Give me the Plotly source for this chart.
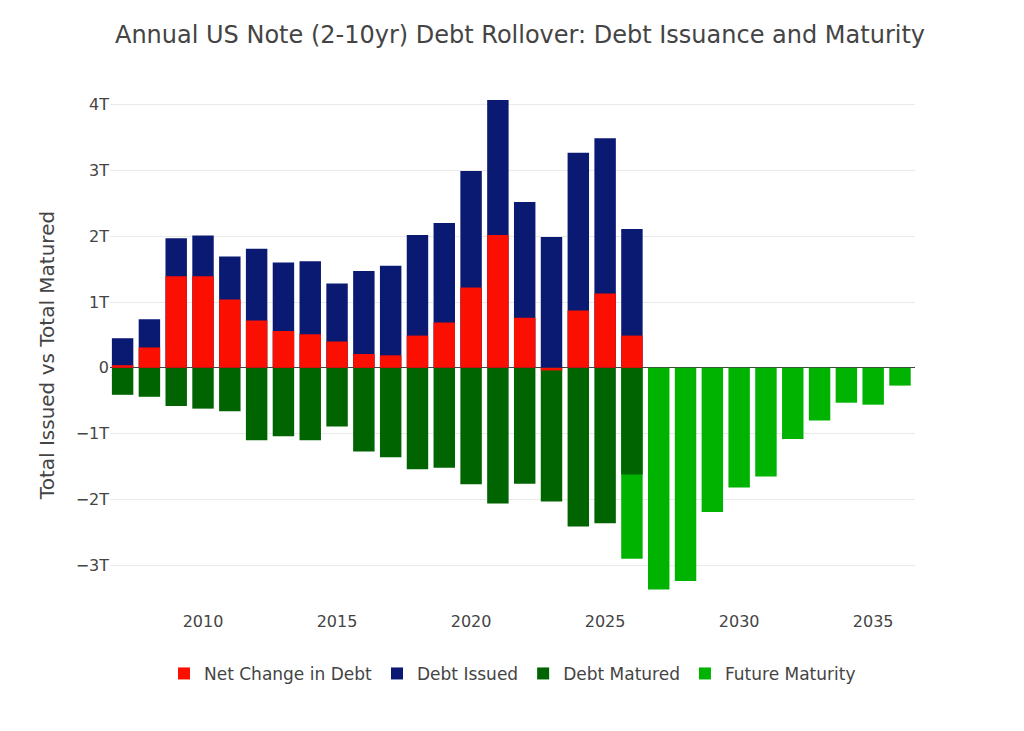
import plotly.graph_objects as go

T = 1e12
years = list(range(2007, 2027))
issued = [0.45, 0.74, 1.97, 2.01, 1.69, 1.81, 1.60, 1.62, 1.28, 1.47,
          1.55, 2.02, 2.20, 2.99, 4.07, 2.52, 1.99, 3.27, 3.49, 2.11]
net_change = [0.04, 0.31, 1.39, 1.39, 1.04, 0.72, 0.56, 0.51, 0.40, 0.21,
              0.19, 0.49, 0.69, 1.22, 2.02, 0.76, -0.04, 0.87, 1.13, 0.49]
matured = [-0.41, -0.44, -0.58, -0.62, -0.66, -1.10, -1.04, -1.10, -0.89, -1.27,
           -1.36, -1.54, -1.52, -1.77, -2.06, -1.76, -2.03, -2.41, -2.36, -1.62]
future_years = list(range(2026, 2037))
future = [-2.90, -3.37, -3.24, -2.19, -1.82, -1.65, -1.08, -0.80, -0.53, -0.56, -0.27]

fig = go.Figure()
fig.add_trace(go.Bar(x=future_years, y=[v * T for v in future], name='Future Maturity',
                     marker_color='#00b300'))
fig.add_trace(go.Bar(x=years, y=[v * T for v in matured], name='Debt Matured',
                     marker_color='#006400'))
fig.add_trace(go.Bar(x=years, y=[v * T for v in issued], name='Debt Issued',
                     marker_color='#0a1a73'))
fig.add_trace(go.Bar(x=years, y=[v * T for v in net_change], name='Net Change in Debt',
                     marker_color='#fa0f00'))

fig.update_layout(
    title=dict(text='Annual US Note (2-10yr) Debt Rollover: Debt Issuance and Maturity',
               x=0.5, y=0.975, font=dict(size=24)),
    font=dict(family='Verdana, DejaVu Sans', size=16, color='#444'),
    barmode='overlay',
    bargap=0.2,
    plot_bgcolor='white',
    paper_bgcolor='white',
    width=1024, height=731,
    margin=dict(l=102, r=117, t=92, b=129),
    xaxis=dict(range=[2006.53, 2036.56], dtick=5, tick0=2010, showgrid=False,
               ticks='', showline=False),
    yaxis=dict(title=dict(text='Total Issued vs Total Matured', font=dict(size=20)),
               range=[-3.68 * T, 4.07 * T], tickformat='~s', dtick=T,
               gridcolor='#eaeaea', zeroline=True, zerolinecolor='#444', zerolinewidth=1),
    legend=dict(orientation='h', x=0.5, xanchor='center', y=-0.09, yanchor='top',
                traceorder='reversed', font=dict(size=17)),
)
for tr in fig.data:
    tr.marker.line.width = 0
    tr.opacity = 1

fig.write_html("out.html")
